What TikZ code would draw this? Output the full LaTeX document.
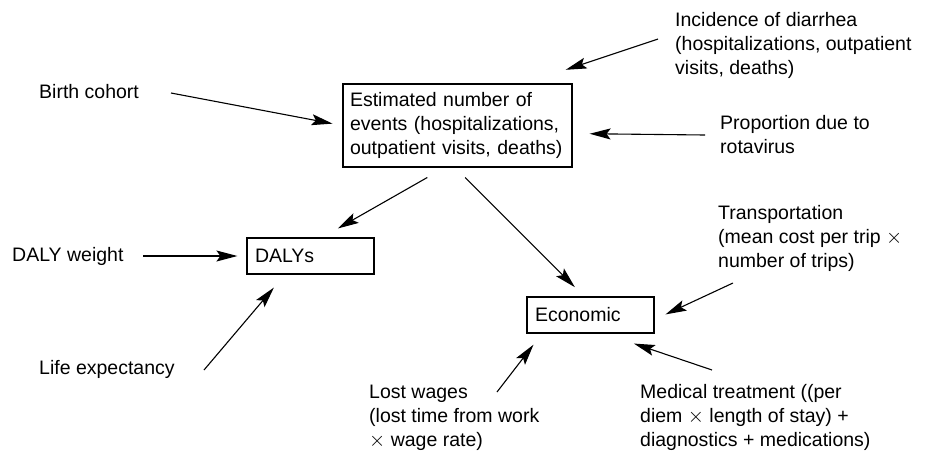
\documentclass[tikz,border=0pt]{standalone}
\usepackage{fontspec}
\setmainfont{Liberation Sans}
\usetikzlibrary{arrows.meta,positioning}

\begin{document}
\begin{tikzpicture}[x=1pt, y=-1pt,
  font=\fontsize{19.5}{24}\selectfont,
  evbox/.style={rectangle, draw, line width=1.2pt, minimum height=#1, align=left, inner ysep=0pt},
  lbl/.style={anchor=north west, inner sep=0pt, align=left},
  arr/.style={-{Stealth[length=21pt, width=11pt, inset=4pt]}, line width=1.1pt}
]
  \useasboundingbox (0,0) rectangle (927,451);

  % boxes
  \node[evbox=83pt, text width=215pt, inner xsep=7pt] (events) at (457.5,125.5) {Estimated number of\\events (hospitalizations,\\outpatient visits, deaths)};
  \node[evbox=36pt, text width=111pt, inner xsep=8pt] (dalys) at (310.5,256) {DALYs};
  \node[evbox=36pt, text width=111pt, inner xsep=8pt] (econ) at (590.5,315) {Economic};

  % inputs
  \node[lbl] (birth) at (39,84.5) {Birth cohort};
  \node[lbl] (incid) at (675,12.5) {Incidence of diarrhea\\(hospitalizations, outpatient\\visits, deaths)};
  \node[lbl] (prop) at (720,115.5) {Proportion due to\\rotavirus};
  \node[lbl] (weight) at (12,247.5) {DALY weight};
  \node[lbl] (life) at (39,360.5) {Life expectancy};
  \node[lbl] (transp) at (718,205) {Transportation\\(mean cost per trip $\times$\\number of trips)};
  \node[lbl] (wages) at (369,384.5) {Lost wages\\(lost time from work\\$\times$ wage rate)};
  \node[lbl] (medic) at (640,384.5) {Medical treatment ((per\\diem $\times$ length of stay) +\\diagnostics + medications)};

  \coordinate (birth-a) at (171,93);
  \coordinate (incid-a) at (658,39);
  \coordinate (prop-a) at (705,135);
  \coordinate (weight-a) at (143,256);
  \coordinate (life-a) at (204,370);
  \coordinate (transp-a) at (733,283);
  \coordinate (wages-a) at (497,392);
  \coordinate (medic-a) at (712,370);

  % arrows
  \draw[arr, shorten >=10pt] (birth-a) -- (events.west);
  \draw[arr, shorten >=43pt] (incid-a) -- (events.32.4);
  \draw[arr, shorten >=17pt] (prop-a) -- (events.-4.74);
  \draw[arr, shorten <=20pt, shorten >=18pt] (events.-107.4) -- (dalys.58.2);
  \draw[arr, shorten <=14pt, shorten >=13pt] (events.-93.4) -- (econ.109.9);
  \draw[arr, shorten >=9pt] (weight-a) -- (dalys.west);
  \draw[arr, shorten >=17pt] (life-a) -- (dalys.-144.8);
  \draw[arr, shorten >=12pt] (transp-a) -- (econ.-4.5);
  \draw[arr, shorten >=14pt] (wages-a) -- (econ.-159);
  \draw[arr, shorten >=31pt] (medic-a) -- (econ.-53.1);
\end{tikzpicture}
\end{document}
